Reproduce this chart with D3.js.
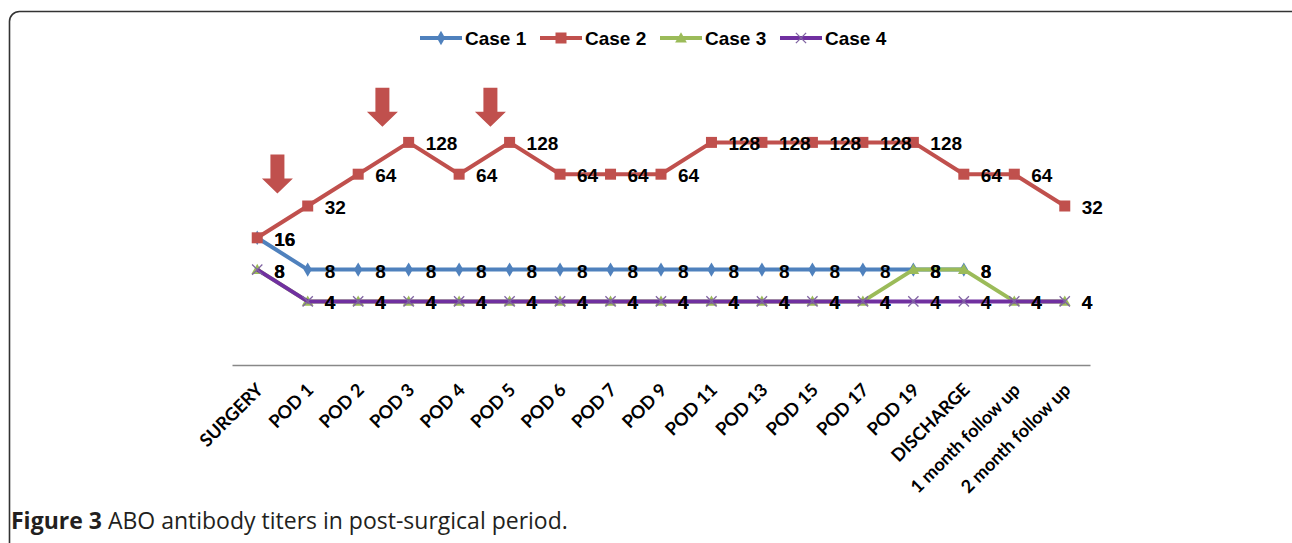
<!DOCTYPE html>
<html>
<head>
<meta charset="utf-8">
<script src="https://cdn.jsdelivr.net/npm/d3@7"></script>
<style>
  body { margin: 0; background: #fff; }
  svg { display: block; }
</style>
</head>
<body>
<div id="chart"></div>
<script>
// ===== data =====
var categories = ["SURGERY", "POD 1", "POD 2", "POD 3", "POD 4", "POD 5", "POD 6", "POD 7", "POD 9",
    "POD 11", "POD 13", "POD 15", "POD 17", "POD 19", "DISCHARGE", "1 month follow up", "2 month follow up"];

var case1 = [16, 8, 8, 8, 8, 8, 8, 8, 8, 8, 8, 8, 8, 8, 8, null, null];
var case2 = [16, 32, 64, 128, 64, 128, 64, 64, 64, 128, 128, 128, 128, 128, 64, 64, 32];
var case3 = [8, 4, 4, 4, 4, 4, 4, 4, 4, 4, 4, 4, 4, 8, 8, 4, 4];
var case4 = [8, 4, 4, 4, 4, 4, 4, 4, 4, 4, 4, 4, 4, 4, 4, 4, 4];

var seriesNames = ["Case 1", "Case 2", "Case 3", "Case 4"];
var seriesColors = ["#4f81bd", "#c0504d", "#9bbb59", "#7030a0"];
var markerColors = ["#4f81bd", "#c0504d", "#9bbb59", "#8064a2"];
var markerTypes = ["diamond", "square", "triangle", "cross"];

// arrows: position in category units, tip value on the titer scale
var arrowIndex = [0.4, 2.48, 4.62];
var arrowTip = [42, 180, 180];

var caption = "Figure 3";
var captionRest = " ABO antibody titers in post-surgical period.";

// ===== layout =====
var W = 1292, H = 543;
var svg = d3.select("#chart").append("svg")
    .attr("width", W)
    .attr("height", H);

// figure frame
svg.append("rect")
    .attr("x", 9.5).attr("y", 11.5)
    .attr("width", 1295).attr("height", 600)
    .attr("rx", 10)
    .attr("fill", "none")
    .attr("stroke", "#333")
    .attr("stroke-width", 1.6);

var x = d3.scaleBand()
    .domain(categories)
    .range([232, 1090])
    .padding(0);
var cx = function (d) { return x(d) + x.bandwidth() / 2; };
var xi = function (i) { return x(categories[0]) + x.bandwidth() / 2 + i * x.step(); };

var y = d3.scaleLog().base(2)
    .domain([1, 256])
    .range([365, 110.6]);

// x axis
var xAxis = svg.append("g")
    .attr("transform", "translate(0,365)")
    .call(d3.axisBottom(x).tickSize(0).tickSizeOuter(0));
xAxis.select(".domain")
    .attr("stroke", "#888")
    .attr("stroke-width", 1.6);
xAxis.selectAll(".tick text")
    .attr("x", 0).attr("y", 0).attr("dy", 0)
    .attr("text-anchor", "end")
    .attr("transform", "translate(7,26) rotate(-45)")
    .style("font-family", "Lato, 'Open Sans', sans-serif")
    .style("font-weight", "700")
    .style("font-size", "18px")
    .attr("fill", "#000");

// arrows
var arrowG = svg.append("g");
arrowIndex.forEach(function (ai, k) {
    var ax = xi(ai), ty = y(arrowTip[k]);
    var p = d3.path();
    p.moveTo(ax, ty);
    p.lineTo(ax - 15.5, ty - 15);
    p.lineTo(ax - 7, ty - 15);
    p.lineTo(ax - 7, ty - 39);
    p.lineTo(ax + 7, ty - 39);
    p.lineTo(ax + 7, ty - 15);
    p.lineTo(ax + 15.5, ty - 15);
    p.closePath();
    arrowG.append("path").attr("d", p.toString()).attr("fill", "#c0504d");
});

function marker(g, type, color, px, py) {
    if (type === "diamond") {
        g.append("path")
            .attr("d", d3.symbol(d3.symbolDiamond, 60)())
            .attr("transform", "translate(" + px + "," + py + ")")
            .attr("fill", color);
    } else if (type === "square") {
        g.append("rect")
            .attr("x", px - 5.5).attr("y", py - 5.5)
            .attr("width", 11).attr("height", 11)
            .attr("fill", color);
    } else if (type === "triangle") {
        g.append("path")
            .attr("d", d3.symbol(d3.symbolTriangle, 60)())
            .attr("transform", "translate(" + px + "," + (py + 1) + ")")
            .attr("fill", color);
    } else {
        g.append("path")
            .attr("d", d3.symbol(d3.symbolX, 70)())
            .attr("transform", "translate(" + px + "," + py + ")")
            .attr("fill", "none")
            .attr("stroke", color)
            .attr("stroke-width", 1.3);
    }
}

var allSeries = [case1, case2, case3, case4];
var line = d3.line()
    .defined(function (d) { return d != null; })
    .x(function (d, i) { return cx(categories[i]); })
    .y(function (d) { return y(d); });

var plot = svg.append("g");
allSeries.forEach(function (s, k) {
    var g = plot.append("g");
    g.append("path")
        .datum(s)
        .attr("fill", "none")
        .attr("stroke", seriesColors[k])
        .attr("stroke-width", 4)
        .attr("stroke-linejoin", "round")
        .attr("d", line);
    s.forEach(function (v, i) {
        if (v == null) return;
        marker(g, markerTypes[k], markerColors[k], cx(categories[i]), y(v));
    });
});

// data labels
var labels = svg.append("g")
    .style("font-family", "'Liberation Sans', Arial, sans-serif")
    .style("font-weight", "700")
    .style("font-size", "19px");
allSeries.forEach(function (s) {
    s.forEach(function (v, i) {
        if (v == null) return;
        labels.append("text")
            .attr("x", cx(categories[i]) + 17)
            .attr("y", y(v))
            .attr("dy", "0.42em")
            .text(v);
    });
});

// legend
var legend = svg.append("g").attr("transform", "translate(420,38)");
seriesNames.forEach(function (n, k) {
    var g = legend.append("g").attr("transform", "translate(" + (k * 120) + ",0)");
    g.append("line")
        .attr("x1", 0).attr("x2", 42)
        .attr("stroke", seriesColors[k])
        .attr("stroke-width", 4);
    marker(g, markerTypes[k], markerColors[k], 21, 0);
    g.append("text")
        .attr("x", 45)
        .attr("dy", "0.36em")
        .style("font-family", "'Liberation Sans', Arial, sans-serif")
        .style("font-weight", "700")
        .style("font-size", "19px")
        .text(n);
});

// caption
var cap = svg.append("text")
    .attr("x", 11)
    .attr("y", 529)
    .style("font-family", "'Open Sans', Lato, sans-serif")
    .style("font-size", "23px")
    .attr("fill", "#231f20");
cap.append("tspan").style("font-weight", "700").text(caption);
cap.append("tspan").text(captionRest);
</script>
</body>
</html>
